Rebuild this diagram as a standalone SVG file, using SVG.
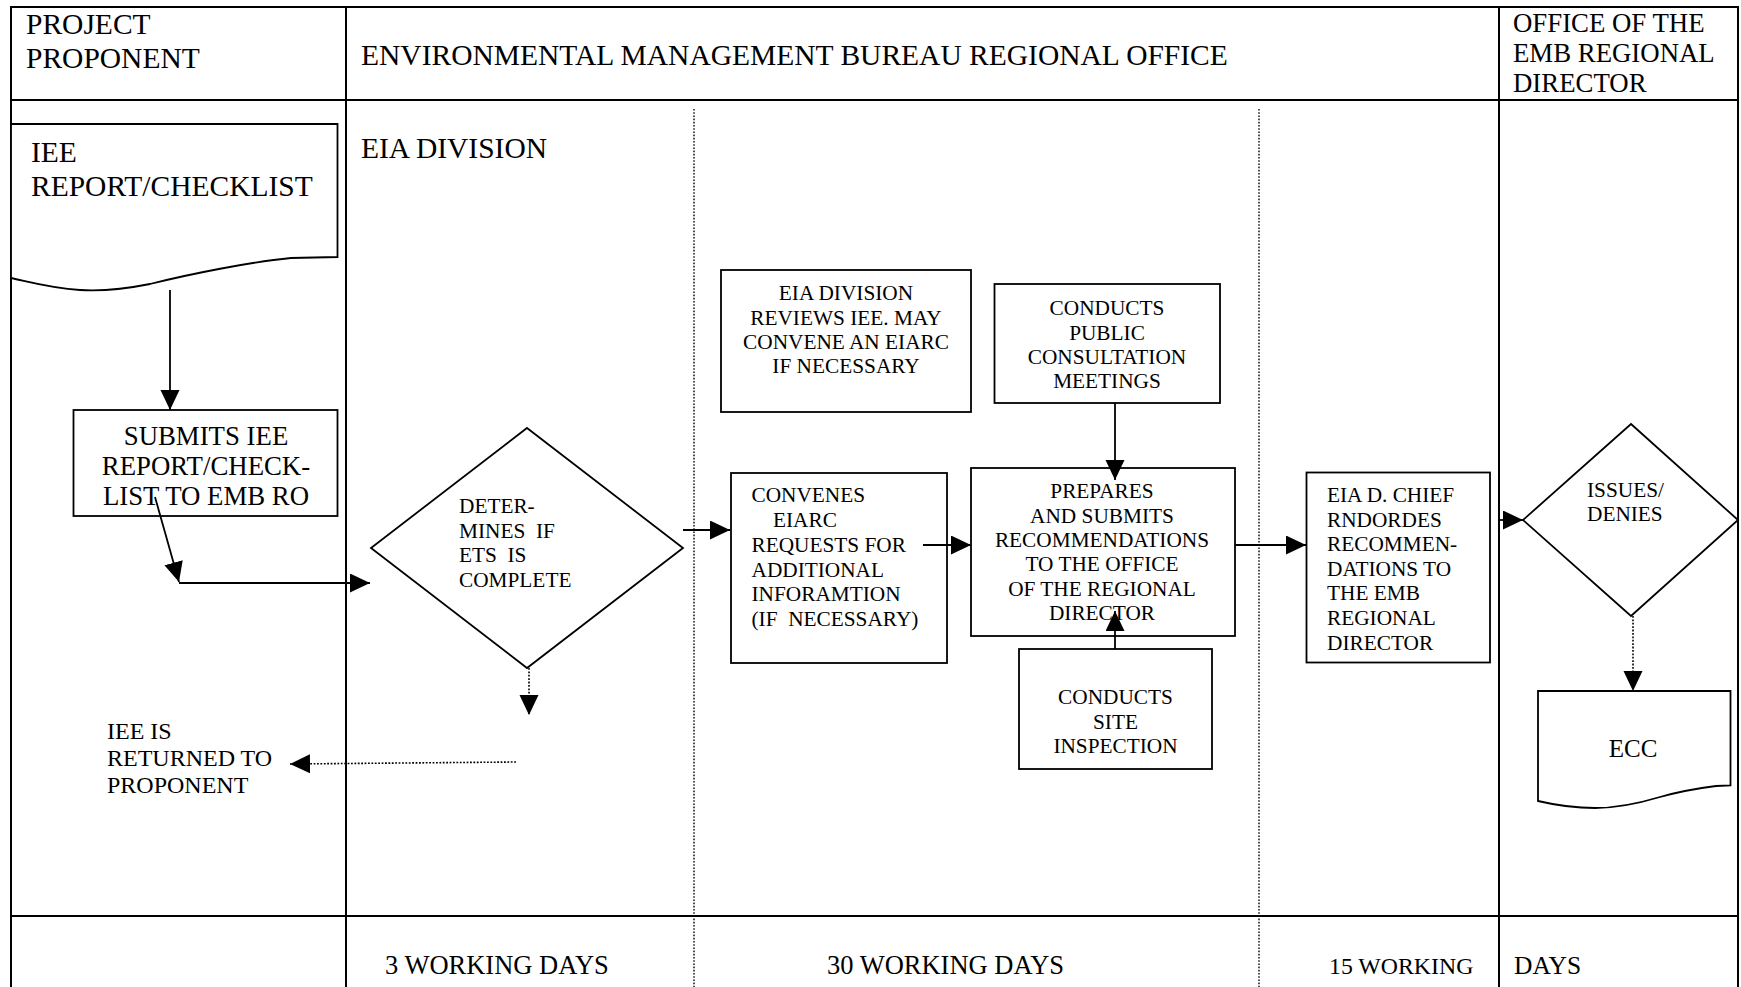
<svg xmlns="http://www.w3.org/2000/svg" width="1741" height="987" viewBox="0 0 1741 987">
<style>
text{font-family:"Liberation Serif","Times New Roman",serif;fill:#000}
.h{font-size:29.5px}
.h2{font-size:26.8px}
.f{font-size:26.5px}
.b{font-size:21.3px}
.m{text-anchor:middle}
.frame{stroke:#000;stroke-width:2;fill:none}
.dot{stroke:#000;stroke-width:1.4;stroke-dasharray:1.6 1.6;fill:none}
.box{stroke:#000;stroke-width:1.8;fill:#fff}
.con{stroke:#000;stroke-width:1.8;fill:none}
.dcon{stroke:#000;stroke-width:1.6;stroke-dasharray:1.8 1.6;fill:none}
</style>
<defs>
<marker id="ah" markerUnits="userSpaceOnUse" markerWidth="21" markerHeight="20" refX="20" refY="9.5" orient="auto">
<path d="M0,0 L20,9.5 L0,19 z" fill="#000"/>
</marker>
</defs>
<rect width="1741" height="987" fill="#fff"/>
<g id="lanes">
<line class="frame" x1="11" y1="7" x2="1738" y2="7"/>
<line class="frame" x1="11" y1="100" x2="1738" y2="100"/>
<line class="frame" x1="11" y1="916" x2="1738" y2="916"/>
<line class="frame" x1="11" y1="6" x2="11" y2="987"/>
<line class="frame" x1="1738" y1="6" x2="1738" y2="987"/>
<line class="frame" x1="346" y1="6" x2="346" y2="987"/>
<line class="frame" x1="1499" y1="6" x2="1499" y2="987"/>
<line class="dot" x1="694" y1="109" x2="694" y2="987"/>
<line class="dot" x1="1259" y1="109" x2="1259" y2="987"/>
<text class="h" x="26" y="34">PROJECT</text>
<text class="h" x="26" y="68">PROPONENT</text>
<text class="h" x="361" y="65">ENVIRONMENTAL MANAGEMENT BUREAU REGIONAL OFFICE</text>
<text class="h2" x="1513" y="32">OFFICE OF THE</text>
<text class="h2" x="1513" y="62">EMB REGIONAL</text>
<text class="h2" x="1513" y="92">DIRECTOR</text>
<text class="h" x="361" y="158">EIA DIVISION</text>
<text class="f" x="385" y="974">3 WORKING DAYS</text>
<text class="f" x="827" y="974">30 WORKING DAYS</text>
<text style="font-size:23.8px" x="1329" y="974">15 WORKING</text>
<text style="font-size:25.5px" x="1514" y="974">DAYS</text>
</g>
<g id="iee-doc">
<path class="box" d="M11,124 L337.5,124 L337.5,257 L291,258 C250,262 190,274 150,284 C120,290 95,291 80,290 C50,288 30,282 11,278 Z"/>
<text class="h" x="31" y="162">IEE</text>
<text class="h" x="31" y="196">REPORT/CHECKLIST</text>
</g>
<g id="submits">
<rect class="box" x="73.5" y="410" width="264" height="106"/>
<text class="m" style="font-size:26.8px" x="206" y="445">SUBMITS IEE</text>
<text class="m" style="font-size:26.8px" x="206" y="475">REPORT/CHECK-</text>
<text class="m" style="font-size:26.8px" x="206" y="505">LIST TO EMB RO</text>
</g>
<g id="determines">
<path class="box" d="M527,428 L683,548 L527,668 L371,548 Z"/>
<text class="b" x="459" y="513">DETER-</text>
<text class="b" x="459" y="538" xml:space="preserve">MINES  IF</text>
<text class="b" x="459" y="562" xml:space="preserve">ETS  IS</text>
<text class="b" x="459" y="587">COMPLETE</text>
</g>
<g id="returned">
<text style="font-size:24px" x="107" y="739">IEE IS</text>
<text style="font-size:24px" x="107" y="766">RETURNED TO</text>
<text style="font-size:24px" x="107" y="793">PROPONENT</text>
</g>
<g id="reviews">
<rect class="box" x="721" y="270" width="250" height="142"/>
<text class="b m" x="846" y="300">EIA DIVISION</text>
<text class="b m" x="846" y="325">REVIEWS IEE. MAY</text>
<text class="b m" x="846" y="349">CONVENE AN EIARC</text>
<text class="b m" x="846" y="373">IF NECESSARY</text>
</g>
<g id="public">
<rect class="box" x="994.5" y="284" width="225.5" height="119"/>
<text class="b m" x="1107" y="315">CONDUCTS</text>
<text class="b m" x="1107" y="340">PUBLIC</text>
<text class="b m" x="1107" y="364">CONSULTATION</text>
<text class="b m" x="1107" y="388">MEETINGS</text>
</g>
<g id="convenes">
<rect class="box" x="731" y="473" width="216" height="190"/>
<text class="b" x="751.5" y="502">CONVENES</text>
<text class="b" x="773" y="527">EIARC</text>
<text class="b" x="751.5" y="552">REQUESTS FOR</text>
<text class="b" x="751.5" y="577">ADDITIONAL</text>
<text class="b" x="751.5" y="601">INFORAMTION</text>
<text class="b" x="751.5" y="626" xml:space="preserve">(IF  NECESSARY)</text>
</g>
<g id="prepares">
<rect class="box" x="971" y="468" width="264" height="168"/>
<text class="b m" x="1102" y="498">PREPARES</text>
<text class="b m" x="1102" y="523">AND SUBMITS</text>
<text class="b m" x="1102" y="547">RECOMMENDATIONS</text>
<text class="b m" x="1102" y="571">TO THE OFFICE</text>
<text class="b m" x="1102" y="596">OF THE REGIONAL</text>
<text class="b m" x="1102" y="620">DIRECTOR</text>
</g>
<g id="site">
<rect class="box" x="1019" y="649" width="193" height="120"/>
<text class="b m" x="1115.5" y="704">CONDUCTS</text>
<text class="b m" x="1115.5" y="729">SITE</text>
<text class="b m" x="1115.5" y="753">INSPECTION</text>
</g>
<g id="chief">
<rect class="box" x="1306.5" y="472.5" width="183.5" height="190"/>
<text class="b" x="1327" y="502">EIA D. CHIEF</text>
<text class="b" x="1327" y="527">RNDORDES</text>
<text class="b" x="1327" y="551">RECOMMEN-</text>
<text class="b" x="1327" y="576">DATIONS TO</text>
<text class="b" x="1327" y="600">THE EMB</text>
<text class="b" x="1327" y="625">REGIONAL</text>
<text class="b" x="1327" y="650">DIRECTOR</text>
</g>
<g id="issues">
<path class="box" d="M1631,424 L1738,520 L1631,616 L1523,520 Z"/>
<text class="b" x="1587" y="497">ISSUES/</text>
<text class="b" x="1587" y="521">DENIES</text>
</g>
<g id="ecc">
<path class="box" d="M1538,691 L1730.5,691 L1730.5,785.5 L1716,786 C1700,788 1685,790 1660,797 C1640,803 1620,808 1595,808 C1575,808 1555,805 1538,801 Z"/>
<text class="m" style="font-size:25px" x="1633" y="757">ECC</text>
</g>
<g id="connectors">
<line class="con" x1="170" y1="290" x2="170" y2="410" marker-end="url(#ah)"/>
<line class="con" x1="155" y1="497" x2="179" y2="582" marker-end="url(#ah)"/>
<line class="con" x1="179" y1="583" x2="370" y2="583" marker-end="url(#ah)"/>
<line class="dcon" x1="529" y1="668" x2="529" y2="715" marker-end="url(#ah)"/>
<line class="dcon" x1="516" y1="762" x2="290" y2="764" marker-end="url(#ah)"/>
<line class="con" x1="683" y1="530" x2="730" y2="530" marker-end="url(#ah)"/>
<line class="con" x1="923" y1="545" x2="971" y2="545" marker-end="url(#ah)"/>
<line class="con" x1="1115" y1="403" x2="1115" y2="480" marker-end="url(#ah)"/>
<line class="con" x1="1115" y1="649" x2="1115" y2="611" marker-end="url(#ah)"/>
<line class="con" x1="1235" y1="545" x2="1306" y2="545" marker-end="url(#ah)"/>
<line class="con" x1="1499" y1="520" x2="1523" y2="520" marker-end="url(#ah)"/>
<line class="dcon" x1="1633" y1="616" x2="1633" y2="691" marker-end="url(#ah)"/>
</g>
</svg>
